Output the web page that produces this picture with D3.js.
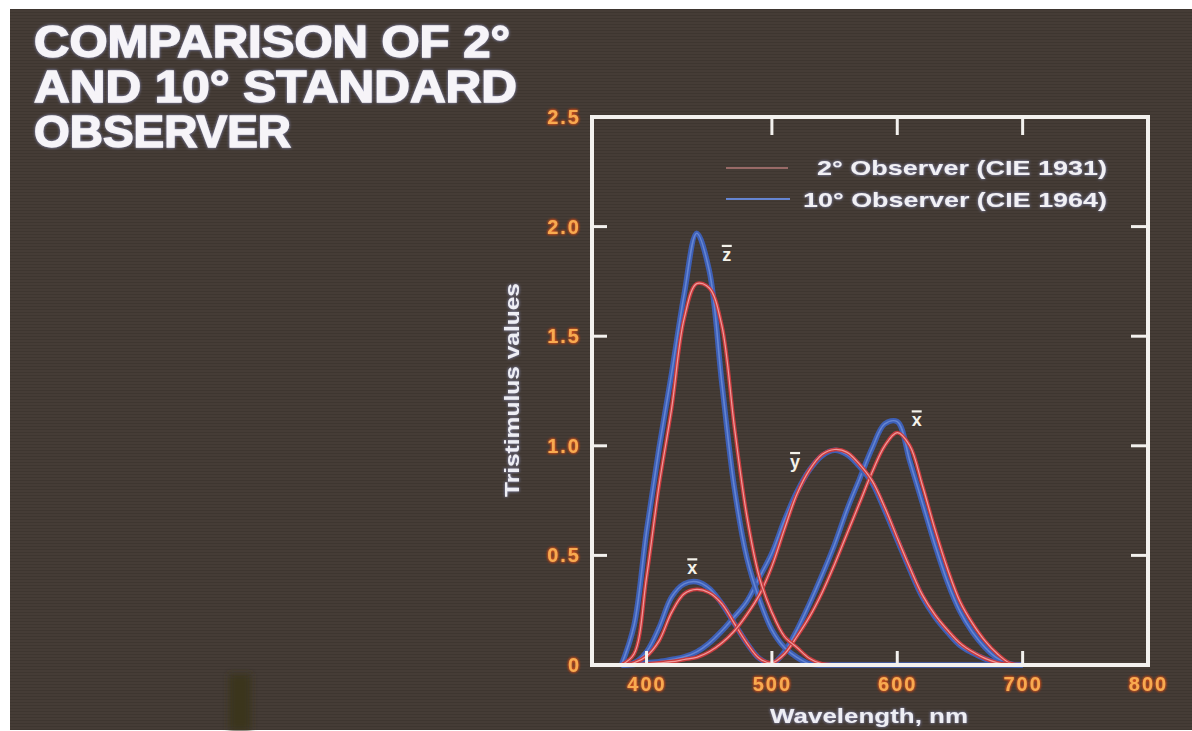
<!DOCTYPE html>
<html>
<head>
<meta charset="utf-8">
<script src="https://cdn.jsdelivr.net/npm/d3@7/dist/d3.min.js"></script>
<style>
body { margin: 0; background: #ffffff; }
svg { display: block; }
.title { font-family: "Liberation Sans", Arial, sans-serif; font-weight: bold; font-size: 44px; fill: #f6f4f8; stroke: #f6f4f8; stroke-width: 1.4; }
.tick text { font-family: "Liberation Sans", Arial, sans-serif; font-weight: bold; font-size: 20px; fill: #f8aa50; letter-spacing: 2px; }
.axis-title { font-family: "Liberation Sans", Arial, sans-serif; font-weight: bold; font-size: 21px; fill: #eeeef4; }
.legend-text { font-family: "Liberation Sans", Arial, sans-serif; font-weight: bold; font-size: 21px; fill: #f1f0f4; }
.peak-label { font-family: "Liberation Sans", Arial, sans-serif; font-weight: bold; font-size: 18px; fill: #f4f2ea; }
.frame { fill: none; stroke: #f3f1ee; stroke-width: 4; }
.inner-tick { stroke: #f3f1ee; stroke-width: 3; }
</style>
</head>
<body>
<div id="chart"></div>
<script>
// wavelengths in nm
var wavelengths = [380, 390, 400, 410, 420, 430, 440, 450, 460, 470, 480, 490, 500,
                   510, 520, 530, 540, 550, 560, 570, 580, 590, 600, 610, 620, 630,
                   640, 650, 660, 670, 680, 690, 700];

// 2 deg observer (CIE 1931) - red
var xbar2 = [0.00, 0.01, 0.04, 0.11, 0.24, 0.325, 0.345, 0.33, 0.28, 0.19, 0.10, 0.03, 0.01,
             0.05, 0.13, 0.22, 0.33, 0.46, 0.60, 0.74, 0.88, 1.00, 1.06, 1.00, 0.82, 0.62,
             0.44, 0.29, 0.19, 0.11, 0.05, 0.008, 0.00];
var ybar2 = [0.00, 0.00, 0.005, 0.01, 0.015, 0.025, 0.035, 0.06, 0.10, 0.155, 0.23, 0.32, 0.45,
             0.62, 0.78, 0.89, 0.96, 0.983, 0.97, 0.915, 0.84, 0.72, 0.58, 0.445, 0.32, 0.23,
             0.16, 0.10, 0.06, 0.03, 0.01, 0.002, 0.00];
var zbar2 = [0.00, 0.05, 0.40, 0.82, 1.17, 1.58, 1.74, 1.72, 1.55, 1.09, 0.68, 0.40, 0.24,
             0.13, 0.08, 0.03, 0.005, 0.00, 0.00, 0.00, 0.00, 0.00, 0.00, 0.00, 0.00, 0.00,
             0.00, 0.00, 0.00, 0.00, 0.00, 0.00, 0.00];

// 10 deg observer (CIE 1964) - blue
var xbar10 = [0.00, 0.01, 0.06, 0.17, 0.31, 0.37, 0.38, 0.35, 0.28, 0.19, 0.10, 0.03, 0.005,
              0.06, 0.16, 0.28, 0.41, 0.55, 0.71, 0.85, 0.99, 1.10, 1.11, 0.93, 0.74, 0.55,
              0.38, 0.245, 0.15, 0.08, 0.03, 0.005, 0.00];
var ybar10 = [0.00, 0.002, 0.01, 0.015, 0.025, 0.037, 0.06, 0.10, 0.155, 0.22, 0.29, 0.40, 0.51,
              0.66, 0.79, 0.89, 0.955, 0.98, 0.96, 0.905, 0.83, 0.705, 0.57, 0.435, 0.31, 0.22,
              0.15, 0.09, 0.055, 0.028, 0.01, 0.002, 0.00];
var zbar10 = [0.00, 0.18, 0.61, 0.99, 1.33, 1.69, 1.97, 1.80, 1.29, 0.81, 0.49, 0.30, 0.16,
              0.08, 0.035, 0.005, 0.00, 0.00, 0.00, 0.00, 0.00, 0.00, 0.00, 0.00, 0.00, 0.00,
              0.00, 0.00, 0.00, 0.00, 0.00, 0.00, 0.00];

var xTickLabels = [400, 500, 600, 700, 800];
var yTickLabels = [0, 0.5, 1.0, 1.5, 2.0, 2.5];
var xInnerTicks = [500, 600, 700];
var xInnerTicksBottom = [400, 500, 600, 700];
var yInnerTicks = [0.5, 1.0, 1.5, 2.0];

var titleLines = ["COMPARISON OF 2\u00b0", "AND 10\u00b0 STANDARD", "OBSERVER"];
var legendLabels = ["2\u00b0 Observer (CIE 1931)", "10\u00b0 Observer (CIE 1964)"];

// peak markers: letter, wavelength, value
var peakLetters = ["z", "x", "y", "x"];
var peakNm = [464, 436.5, 518.5, 615.5];
var peakVal = [1.88, 0.45, 0.935, 1.125];

var width = 1192, height = 731;

var svg = d3.select("#chart").append("svg")
    .attr("width", width)
    .attr("height", height);

var defs = svg.append("defs");

var glow = defs.append("filter").attr("id", "orangeGlow")
    .attr("x", "-30%").attr("y", "-30%").attr("width", "160%").attr("height", "160%");
glow.append("feGaussianBlur").attr("in", "SourceAlpha").attr("stdDeviation", 1.8).attr("result", "b");
glow.append("feFlood").attr("flood-color", "#e0501c").attr("result", "c");
glow.append("feComposite").attr("in", "c").attr("in2", "b").attr("operator", "in").attr("result", "g");
var gm = glow.append("feMerge");
gm.append("feMergeNode").attr("in", "g");
gm.append("feMergeNode").attr("in", "g");
gm.append("feMergeNode").attr("in", "SourceGraphic");

var soft = defs.append("filter").attr("id", "softGlow")
    .attr("x", "-10%").attr("y", "-30%").attr("width", "120%").attr("height", "160%");
soft.append("feGaussianBlur").attr("in", "SourceAlpha").attr("stdDeviation", 1.4).attr("result", "b");
soft.append("feFlood").attr("flood-color", "#8f95c8").attr("result", "c");
soft.append("feComposite").attr("in", "c").attr("in2", "b").attr("operator", "in").attr("result", "g");
var sm = soft.append("feMerge");
sm.append("feMergeNode").attr("in", "g");
sm.append("feMergeNode").attr("in", "SourceGraphic");

var lineBlur = defs.append("filter").attr("id", "lineBlur");
lineBlur.append("feGaussianBlur").attr("stdDeviation", 0.6);

var smudgeBlur = defs.append("filter").attr("id", "smudgeBlur")
    .attr("x", "-50%").attr("y", "-20%").attr("width", "200%").attr("height", "140%");
smudgeBlur.append("feGaussianBlur").attr("stdDeviation", 3);

var scan = defs.append("pattern").attr("id", "scan")
    .attr("width", 6).attr("height", 3).attr("patternUnits", "userSpaceOnUse");
scan.append("rect").attr("width", 6).attr("height", 1).attr("fill", "rgba(0,0,0,0.10)");

// slide background
svg.append("rect")
    .attr("x", 10).attr("y", 9)
    .attr("width", width - 10).attr("height", height - 10)
    .attr("fill", "#453c36");
svg.append("rect")
    .attr("x", 10).attr("y", 9)
    .attr("width", width - 10).attr("height", height - 10)
    .attr("fill", "url(#scan)");
// dark smudge at bottom left of the photo
svg.append("rect")
    .attr("x", 229).attr("y", 674).attr("width", 22).attr("height", 57)
    .attr("fill", "#3a351e").attr("filter", "url(#smudgeBlur)");

// title
svg.append("g").selectAll("text")
    .data(titleLines)
    .enter().append("text")
    .attr("class", "title")
    .attr("x", 34)
    .attr("y", function(d, i) { return 57 + i * 45; })
    .attr("textLength", function(d, i) { return [476, 483, 257][i]; })
    .attr("lengthAdjust", "spacingAndGlyphs")
    .attr("filter", "url(#softGlow)")
    .text(function(d) { return d; });

var margin = {top: 117, right: 44, bottom: 66, left: 592},
    innerwidth = width - margin.left - margin.right,
    innerheight = height - margin.top - margin.bottom;

var x_scale = d3.scaleLinear()
    .domain([356.5, 800])
    .range([0, innerwidth]);

var y_scale = d3.scaleLinear()
    .domain([0, 2.5])
    .range([innerheight, 0]);

var plot = svg.append("g")
    .attr("transform", "translate(" + margin.left + "," + margin.top + ")");

// curves
var draw_line = d3.line()
    .curve(d3.curveCatmullRom.alpha(0.5))
    .x(function(d) { return x_scale(d[0]); })
    .y(function(d) { return y_scale(d[1]); });

var blueSeries = [xbar10, ybar10, zbar10];
var redSeries = [xbar2, ybar2, zbar2];

function drawCurves(series, outer, outerW, inner, innerW) {
    series.forEach(function(vals) {
        var pts = d3.zip(wavelengths, vals);
        plot.append("path")
            .attr("d", draw_line(pts))
            .attr("fill", "none")
            .attr("stroke", outer)
            .attr("stroke-width", outerW)
            .attr("stroke-linejoin", "round")
            .attr("filter", "url(#lineBlur)");
        plot.append("path")
            .attr("d", draw_line(pts))
            .attr("fill", "none")
            .attr("stroke", inner)
            .attr("stroke-width", innerW);
    });
}
drawCurves(blueSeries, "#3d5fb6", 5.5, "#6585d2", 1.6);
drawCurves(redSeries, "#c83a3e", 3.8, "#f09a9a", 1.2);

// frame
plot.append("rect")
    .attr("class", "frame")
    .attr("x", 0).attr("y", 0)
    .attr("width", innerwidth)
    .attr("height", innerheight);

// inner ticks
plot.selectAll(".tick-top")
    .data(xInnerTicks)
    .enter().append("line")
    .attr("class", "inner-tick")
    .attr("x1", function(d) { return x_scale(d); })
    .attr("x2", function(d) { return x_scale(d); })
    .attr("y1", 0).attr("y2", 18);

plot.selectAll(".tick-bottom")
    .data(xInnerTicksBottom)
    .enter().append("line")
    .attr("class", "inner-tick")
    .attr("x1", function(d) { return x_scale(d); })
    .attr("x2", function(d) { return x_scale(d); })
    .attr("y1", innerheight).attr("y2", innerheight - 14);

plot.selectAll(".tick-left")
    .data(yInnerTicks)
    .enter().append("line")
    .attr("class", "inner-tick")
    .attr("x1", 0).attr("x2", 15)
    .attr("y1", function(d) { return y_scale(d); })
    .attr("y2", function(d) { return y_scale(d); });

plot.selectAll(".tick-right")
    .data(yInnerTicks)
    .enter().append("line")
    .attr("class", "inner-tick")
    .attr("x1", innerwidth).attr("x2", innerwidth - 17)
    .attr("y1", function(d) { return y_scale(d); })
    .attr("y2", function(d) { return y_scale(d); });

// tick labels
var x_axis = d3.axisBottom(x_scale)
    .tickValues(xTickLabels)
    .tickFormat(d3.format("d"))
    .tickSize(0)
    .tickPadding(12);

var y_axis = d3.axisLeft(y_scale)
    .tickValues(yTickLabels)
    .tickFormat(function(d) { return d === 0 ? "0" : d3.format(".1f")(d); })
    .tickSize(0)
    .tickPadding(11);

var gx = plot.append("g")
    .attr("transform", "translate(0," + innerheight + ")")
    .call(x_axis);
gx.select(".domain").remove();
gx.selectAll("text").attr("filter", "url(#orangeGlow)");

var gy = plot.append("g")
    .call(y_axis);
gy.select(".domain").remove();
gy.selectAll("text").attr("filter", "url(#orangeGlow)");

// axis titles
plot.append("text")
    .attr("class", "axis-title")
    .attr("x", 869 - margin.left)
    .attr("y", innerheight + 58)
    .attr("text-anchor", "middle")
    .attr("textLength", 198)
    .attr("lengthAdjust", "spacingAndGlyphs")
    .attr("filter", "url(#softGlow)")
    .text("Wavelength, nm");

plot.append("text")
    .attr("class", "axis-title")
    .attr("transform", "translate(" + (519 - margin.left) + "," + (390 - margin.top) + ") rotate(-90)")
    .attr("text-anchor", "middle")
    .attr("textLength", 214)
    .attr("lengthAdjust", "spacingAndGlyphs")
    .attr("filter", "url(#softGlow)")
    .text("Tristimulus values");

// legend
var legend = plot.append("g")
    .attr("transform", "translate(" + (726 - margin.left) + "," + (168 - margin.top) + ")");

legend.append("line")
    .attr("x1", 0).attr("x2", 62).attr("y1", 0).attr("y2", 0)
    .attr("stroke", "#c83a3e").attr("stroke-width", 3.8).attr("filter", "url(#lineBlur)");
legend.append("line")
    .attr("x1", 0).attr("x2", 62).attr("y1", 0).attr("y2", 0)
    .attr("stroke", "#f09a9a").attr("stroke-width", 1.2);
legend.append("line")
    .attr("x1", 0).attr("x2", 64).attr("y1", 31).attr("y2", 31)
    .attr("stroke", "#3d5fb6").attr("stroke-width", 6.5).attr("filter", "url(#lineBlur)");
legend.append("line")
    .attr("x1", 0).attr("x2", 64).attr("y1", 31).attr("y2", 31)
    .attr("stroke", "#6585d2").attr("stroke-width", 1.8);

legend.selectAll("text")
    .data(legendLabels)
    .enter().append("text")
    .attr("class", "legend-text")
    .attr("x", 1107 - 726)
    .attr("y", function(d, i) { return 7 + i * 32; })
    .attr("text-anchor", "end")
    .attr("textLength", function(d, i) { return i === 0 ? 290 : 304; })
    .attr("lengthAdjust", "spacingAndGlyphs")
    .attr("filter", "url(#softGlow)")
    .text(function(d) { return d; });

// peak letters with bars
var peaks = plot.selectAll(".peak")
    .data(peakLetters.map(function(l, i) { return {letter: l, nm: peakNm[i], v: peakVal[i]}; }))
    .enter().append("g")
    .attr("transform", function(d) { return "translate(" + x_scale(d.nm) + "," + y_scale(d.v) + ")"; });

peaks.append("text")
    .attr("class", "peak-label")
    .attr("text-anchor", "middle")
    .attr("y", 8)
    .text(function(d) { return d.letter; });
peaks.append("line")
    .attr("x1", -5).attr("x2", 5)
    .attr("y1", -7).attr("y2", -7)
    .attr("stroke", "#f4f2ea").attr("stroke-width", 2.2);
</script>
</body>
</html>
